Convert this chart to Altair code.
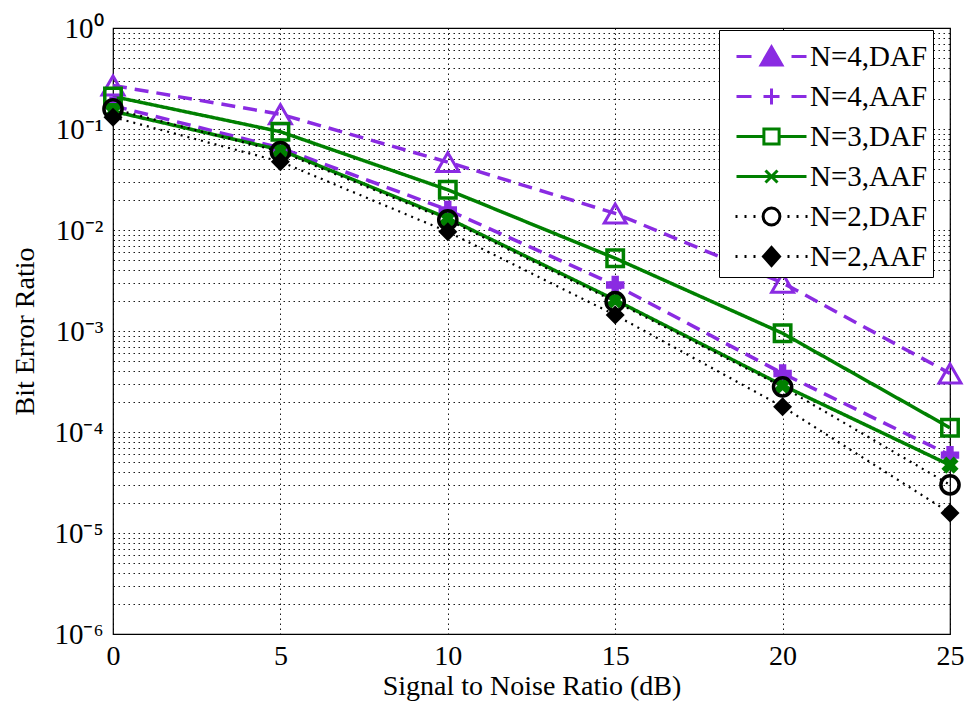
import altair as alt
import pandas as pd

# ---------------- data ----------------
snr = [0, 5, 10, 15, 20, 25]
n4_daf = [0.27, 0.14, 0.047, 0.0146, 0.0030, 3.8e-4]
n4_aaf = [0.17, 0.065, 0.0158, 0.00285, 3.8e-4, 5.9e-5]
n3_daf = [0.21, 0.094, 0.025, 0.00525, 9.5e-4, 1.1e-4]
n3_aaf = [0.15, 0.062, 0.0131, 0.00203, 2.9e-4, 4.7e-5]
n2_daf = [0.158, 0.0596, 0.0126, 0.00195, 2.8e-4, 3.0e-5]
n2_aaf = [0.131, 0.0475, 0.0096, 0.00144, 1.78e-4, 1.58e-5]

series_names = ["N=4,DAF", "N=4,AAF", "N=3,DAF", "N=3,AAF", "N=2,DAF", "N=2,AAF"]
series_values = [n4_daf, n4_aaf, n3_daf, n3_aaf, n2_daf, n2_aaf]

x_ticks = [0, 5, 10, 15, 20, 25]
y_decade_labels = ["10⁰", "10⁻¹", "10⁻²", "10⁻³", "10⁻⁴", "10⁻⁵", "10⁻⁶"]

rows = []
for name, vals in zip(series_names, series_values):
    for s, v in zip(snr, vals):
        rows.append({"snr": s, "ber": v, "series": name})
df = pd.DataFrame(rows)

# ---------------- styles ----------------
PURPLE = "#8A2BE2"
GREEN = "#008000"
BLACK = "#000000"
FONT = "Liberation Serif"

styles = {
    "N=4,DAF": dict(color=PURPLE, dash=[14, 8], width=3.5, shape="triangle-up", filled=False, size=480, sw=3, angle=0),
    "N=4,AAF": dict(color=PURPLE, dash=[14, 8], width=3.5, shape="cross", filled=True, size=340, sw=0, angle=0),
    "N=3,DAF": dict(color=GREEN, dash=[1, 0], width=3.5, shape="square", filled=False, size=270, sw=3.5, angle=0),
    "N=3,AAF": dict(color=GREEN, dash=[1, 0], width=3.5, shape="cross", filled=True, size=300, sw=0, angle=45),
    "N=2,DAF": dict(color=BLACK, dash=[2, 5], width=2.2, shape="circle", filled=False, size=330, sw=3.5, angle=0),
    "N=2,AAF": dict(color=BLACK, dash=[2, 5], width=2.2, shape="diamond", filled=True, size=360, sw=0, angle=0),
}

# legend symbols: line stubs + marker (unit = half of sqrt(symbolSize))
legend_paths = [
    "M-1.75,0H-1.0M1.0,0H1.75M-0.52,0.42L0,-0.48L0.52,0.42Z",
    "M-1.75,0H-1.0M1.0,0H1.75M-0.4,0H0.4M0,-0.4V0.4",
    "M-1.75,0H-0.38M0.38,0H1.75M-0.38,-0.38H0.38V0.38H-0.38Z",
    "M-1.75,0H1.75M-0.3,-0.3L0.3,0.3M-0.3,0.3L0.3,-0.3",
    "M-1.8,0H-1.7M-1.35,0H-1.25M-0.9,0H-0.8M0.8,0H0.9M1.25,0H1.35M1.7,0H1.8"
    "M0.42,0A0.42,0.42,0,1,1,-0.42,0A0.42,0.42,0,1,1,0.42,0Z",
    "M-1.8,0H-1.7M-1.35,0H-1.25M-0.9,0H-0.8M0.8,0H0.9M1.25,0H1.35M1.7,0H1.8"
    "M0,-0.45L0.4,0L0,0.45L-0.4,0Z",
]
legend_fills = [PURPLE, PURPLE, "#ffffff", GREEN, "#ffffff", BLACK]
legend_strokes = [PURPLE, PURPLE, GREEN, GREEN, BLACK, BLACK]

# ---------------- axes ----------------
y_grid_values = [m * 10.0 ** e for e in range(-6, 0) for m in range(1, 10)] + [1.0]
label_expr = (
    "abs(log(datum.value)/LN10 - round(log(datum.value)/LN10)) < 0.01 ? "
    + str(y_decade_labels)
    + "[round(-log(datum.value)/LN10)] : ''"
)

W, H = 837, 606

X = alt.X(
    "snr:Q",
    scale=alt.Scale(domain=[0, 25], nice=False, zero=False),
    axis=alt.Axis(
        values=x_ticks, format="d", title="Signal to Noise Ratio (dB)",
        grid=True, gridColor="black", gridDash=[1.5, 3.5], gridOpacity=0.9,
        ticks=False, domain=False, labelFlush=False,
        labelFont=FONT, labelFontSize=28, labelColor="black", labelPadding=8,
        titleFont=FONT, titleFontSize=28, titleFontWeight="normal", titleColor="black",
        titlePadding=2,
    ),
)
Y = alt.Y(
    "ber:Q",
    scale=alt.Scale(type="log", domain=[1e-6, 1], nice=False),
    axis=alt.Axis(
        values=y_grid_values, labelExpr=label_expr, title="Bit Error Ratio",
        grid=True, gridColor="black", gridDash=[1.5, 3.5], gridOpacity=0.9,
        ticks=False, domain=False, labelFlush=False, labelOverlap=False,
        labelFont=FONT, labelFontSize=29, labelColor="black", labelPadding=10,
        titleFont=FONT, titleFontSize=28, titleFontWeight="normal", titleColor="black",
        titleX=-88, titleY=H / 2, titleAngle=270, titleAlign="center", titleBaseline="middle",
    ),
)

layers = []
for name in series_names:
    st = styles[name]
    layers.append(
        alt.Chart(df).transform_filter(alt.datum.series == name)
        .mark_line(color=st["color"], strokeDash=st["dash"], strokeWidth=st["width"], clip=True)
        .encode(x=X, y=Y)
    )
for name in series_names:
    st = styles[name]
    pt = dict(shape=st["shape"], size=st["size"], angle=st["angle"], opacity=1)
    if st["filled"]:
        pt.update(filled=True, fill=st["color"], strokeWidth=0)
    else:
        pt.update(filled=False, stroke=st["color"], strokeWidth=st["sw"], fill="white", fillOpacity=0)
    layers.append(
        alt.Chart(df).transform_filter(alt.datum.series == name)
        .mark_point(**pt)
        .encode(x=X, y=Y)
    )

leg = alt.Legend(
    title=None, orient="none", legendX=606, legendY=2,
    padding=5, rowPadding=3, fillColor="white", strokeColor="black",
    labelFont=FONT, labelFontSize=29, labelColor="black", labelLimit=300,
    symbolSize=1600, symbolStrokeWidth=3, symbolOffset=26, labelOffset=17,
)
legend_layer = (
    alt.Chart(df).transform_filter("datum.snr < -100")
    .mark_point(filled=True, opacity=1)
    .encode(
        x=X, y=Y,
        shape=alt.Shape("series:N", scale=alt.Scale(domain=series_names, range=legend_paths), legend=leg),
        fill=alt.Fill("series:N", scale=alt.Scale(domain=series_names, range=legend_fills), legend=leg),
        stroke=alt.Stroke("series:N", scale=alt.Scale(domain=series_names, range=legend_strokes), legend=leg),
    )
)
layers.append(legend_layer)

chart = (
    alt.layer(*layers)
    .properties(
        width=W, height=H,
        padding={"left": 113, "top": 28, "right": 21, "bottom": 73},
        autosize=alt.AutoSizeParams(type="none"),
        background="white",
    )
    .configure_view(stroke="black", strokeWidth=1.2)
)

chart.save("out.html", embed_options={"renderer": "svg", "actions": False})
